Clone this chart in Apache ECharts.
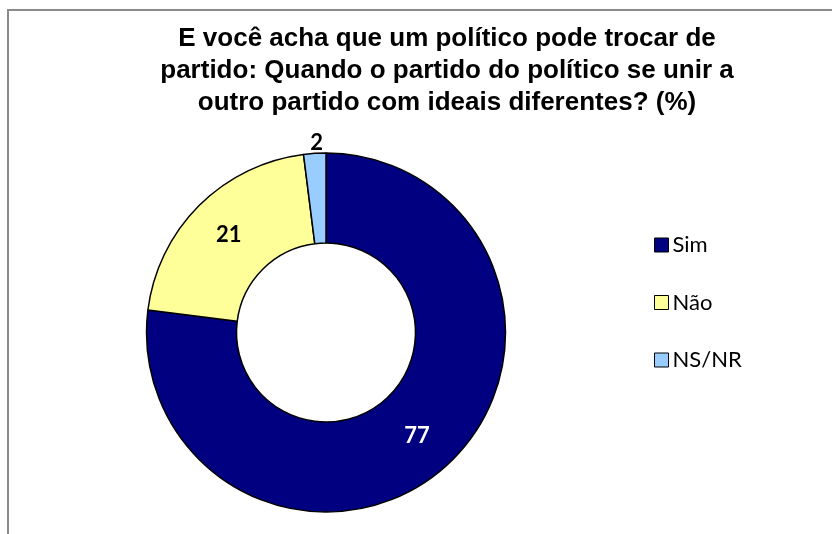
<!DOCTYPE html>
<html>
<head>
<meta charset="utf-8">
<script src="https://cdn.jsdelivr.net/npm/echarts@6/dist/echarts.min.js"></script>
<style>
html,body{margin:0;padding:0;background:#fff;}
#wrap{position:relative;width:832px;height:534px;overflow:hidden;}
#frame{position:absolute;left:7px;top:9px;width:900px;height:600px;border-left:2px solid #8a8a8a;border-top:2px solid #8a8a8a;box-sizing:border-box;}
#chart{position:absolute;left:0;top:0;width:832px;height:534px;}
</style>
</head>
<body>
<div id="wrap"><div id="frame"></div><div id="chart"></div></div>
<script>
const titleText = 'E você acha que um político pode trocar de\npartido: Quando o partido do político se unir a\noutro partido com ideais diferentes? (%)';
const categories = ['Sim', 'Não', 'NS/NR'];
const values = [77, 21, 2];
const colors = ['#000080', '#FFFF99', '#99CCFF'];
const labelColors = ['#ffffff', '#000000', '#000000'];

const chart = echarts.init(document.getElementById('chart'), null, {renderer: 'canvas'});
const data = categories.map((c, i) => {
  const item = {
    name: c,
    value: values[i],
    itemStyle: {color: colors[i]},
    label: {color: labelColors[i]}
  };
  if (i === 2) {
    item.label = {color: labelColors[i], position: 'outside', distanceToLabelLine: -9};
    item.labelLine = {show: false, length: 10, length2: 0};
  }
  return item;
});
chart.setOption({
  animation: false,
  backgroundColor: 'transparent',
  title: {
    text: titleText,
    left: 442,
    top: 18,
    textAlign: 'center',
    textStyle: {
      fontFamily: '"Liberation Sans", Arial, sans-serif',
      fontWeight: 'bold',
      fontSize: 26,
      lineHeight: 32,
      color: '#000'
    }
  },
  legend: {
    orient: 'vertical',
    left: 649,
    top: 229,
    itemWidth: 14,
    itemHeight: 14,
    itemGap: 35.5,
    icon: 'rect',
    data: categories,
    itemStyle: {borderColor: '#000', borderWidth: 1},
    textStyle: {
      fontFamily: 'Lato, "Open Sans", sans-serif',
      fontSize: 22,
      lineHeight: 22,
      color: '#000',
      padding: [0, 0, 0, -1]
    }
  },
  series: [{
    type: 'pie',
    center: [326, 332.5],
    radius: [89.5, 179.5],
    startAngle: 90,
    clockwise: true,
    avoidLabelOverlap: false,
    itemStyle: {borderColor: '#000', borderWidth: 1.5},
    label: {
      show: true,
      position: 'inside',
      formatter: '{c}',
      fontFamily: 'Lato, "Open Sans", sans-serif',
      fontWeight: 'bold',
      fontSize: 22
    },
    labelLine: {show: false},
    emphasis: {disabled: true},
    data: data
  }]
});
</script>
</body>
</html>
